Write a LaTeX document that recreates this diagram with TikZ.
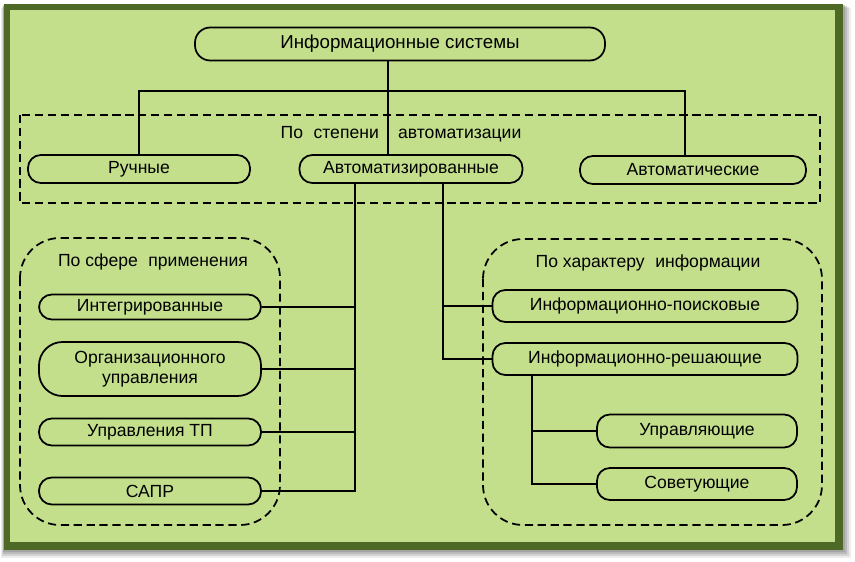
\documentclass[tikz,border=0pt]{standalone}
\usepackage{fontspec}
\setmainfont{Liberation Sans}
\usetikzlibrary{positioning,calc}
\definecolor{leafgreen}{HTML}{C4DF8C}
\definecolor{mossgreen}{HTML}{4E6926}
\definecolor{shadowgray}{HTML}{8C8C8C}
\newcommand{\px}{0.03cm}

\begin{document}
\begin{tikzpicture}[x=0.03cm,y=-0.03cm,line width=1.5pt,
    sysbox/.style={draw,fill=leafgreen,rounded corners=11pt,minimum height={28*\px},
      inner sep=1pt,align=center,font=\fontsize{15}{17.5}\selectfont},
    grouplabel/.style={font=\fontsize{15}{17.5}\selectfont},
    groupframe/.style={dashed,dash pattern=on 7pt off 4pt}]
  % frame with shadow
  \useasboundingbox (0,0) rectangle (855,562);
  \fill[white] (0,0) rectangle (855,562);
  \foreach \d/\o in {8/0.15,6/0.25,4/0.35,2/0.45}
    {\fill[shadowgray,opacity=\o] (4-\d/3,4+\d/2) rectangle (843+\d,550+\d);}
  \fill[mossgreen] (4,4) rectangle (843,550);
  \fill[leafgreen] (10,10) rectangle (835,542);

  % groups
  \draw[groupframe] (20,115) rectangle (820,203);
  \draw[groupframe,rounded corners=1.2cm] (20,238) rectangle (280,525);
  \draw[groupframe,rounded corners=1.2cm] (483,239) rectangle (822,525);
  \node[grouplabel] (byAuto) at (401,134) {По\hspace{0.6em}степени\hspace{1.1em}автоматизации};
  \node[grouplabel] (bySphere) at (153,262) {По сфере\hspace{0.6em}применения};
  \node[grouplabel] (byInfo) at (648,263) {По характеру\hspace{0.6em}информации};

  % nodes
  \node[sysbox,minimum width={410*\px},minimum height={33*\px},rounded corners=13pt,
    font=\fontsize{16}{18}\selectfont] (top) at (400,44) {Информационные системы};
  \node[sysbox,minimum width={222*\px}] (manual) at (139,169) {Ручные};
  \node[sysbox,minimum width={223*\px}] (auto) at (411,169) {Автоматизированные};
  \node[sysbox,minimum width={226*\px}] (automatic) at (693,170) {Автоматические};

  \node[sysbox,minimum width={222*\px},minimum height={25*\px}] (integ) at (150,307) {Интегрированные};
  \node[sysbox,minimum width={222*\px},minimum height={54*\px},rounded corners=20pt] (org) at (150,369) {Организационного\\управления};
  \node[sysbox,minimum width={222*\px},minimum height={27*\px}] (tp) at (150,432) {Управления ТП};
  \node[sysbox,minimum width={222*\px},minimum height={27*\px}] (sapr) at (150,491) {САПР};

  \node[sysbox,minimum width={305*\px},minimum height={32*\px}] (search) at (645,306) {Информационно-поисковые};
  \node[sysbox,minimum width={305*\px},minimum height={32*\px}] (solve) at (645,359) {Информационно-решающие};
  \node[sysbox,minimum width={200*\px},minimum height={33*\px}] (control) at (697,431) {Управляющие};
  \node[sysbox,minimum width={200*\px},minimum height={32*\px}] (advise) at (697,484) {Советующие};

  % connectors
  \coordinate (trunk) at (388,91);
  \coordinate (autoLink) at (685,91);
  \coordinate (leftBus) at (355,0);
  \coordinate (rightBus) at (443,0);
  \coordinate (subBus) at (532,0);
  \draw (trunk |- top.south) -- (trunk |- auto.north);
  \draw (manual.north) |- (autoLink) -- (autoLink |- automatic.north);
  \draw (leftBus |- auto.south) |- (sapr.east);
  \foreach \n in {integ,org,tp}
    {\draw (\n.east) -- (\n.east -| leftBus);}
  \draw (rightBus |- auto.south) |- (solve.west);
  \draw (rightBus |- search.west) -- (search.west);
  \draw (subBus |- solve.south) |- (advise.west);
  \draw (subBus |- control.west) -- (control.west);
\end{tikzpicture}
\end{document}
